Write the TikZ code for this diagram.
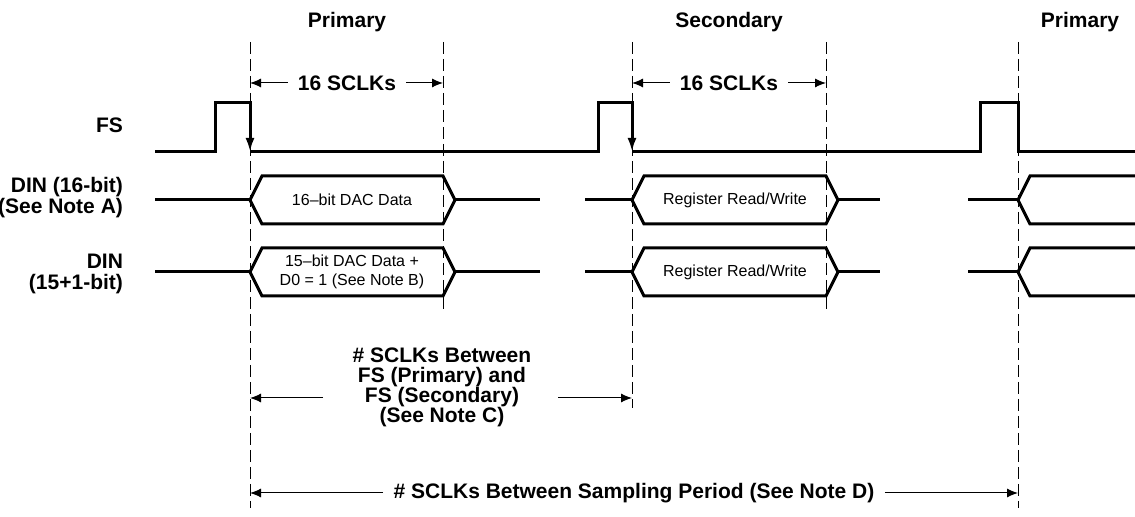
\documentclass[tikz,border=0pt]{standalone}
\usepackage{fontspec}
\setmainfont{Liberation Sans}
\usetikzlibrary{arrows.meta}
\tikzset{>=latex}

\begin{document}
\begin{tikzpicture}[
    x = 0.5pt, y = -0.5pt,
    sig/.style = {line width = 1.5pt},
    grid/.style = {line width = 0.5pt, dash pattern = on 6pt off 2.5pt},
    dim/.style = {line width = 0.5pt, -{Latex[length = 5.5pt, width = 4.5pt]}},
    fsedge/.style = {sig, -{Latex[length = 7pt, width = 4.5pt]}},
    lbl/.style = {font = \bfseries\fontsize{10.5}{10.5}\selectfont},
    dat/.style = {font = \fontsize{8}{9.5}\selectfont, align = center}
]
\useasboundingbox (0,0) rectangle (1135,517);

% frame boundaries
\foreach \n/\x/\yb in {t1/250/508, t2/443/310, t3/632/408, t4/826/310, t5/1018/508}
  {\coordinate (\n) at (\x,42); \draw[grid] (\n) -- (\x,\yb);}

\node[lbl] (h1) at (347,22) {Primary};
\node[lbl] (h2) at (729,22) {Secondary};
\node[lbl] (h3) at (1080,22) {Primary};

\node[lbl, inner xsep = 5pt] (s1) at (347,83) {16 SCLKs};
\draw[dim] (s1.west) -- (s1.west -| t1);
\draw[dim] (s1.east) -- (s1.east -| t2);
\node[lbl, inner xsep = 5pt] (s2) at (729,83) {16 SCLKs};
\draw[dim] (s2.west) -- (s2.west -| t3);
\draw[dim] (s2.east) -- (s2.east -| t4);

\node[lbl, anchor = east, align = right] (fs) at (130,125) {FS};
\node[lbl, anchor = east, align = right] (din1) at (130,198) {DIN (16-bit)\\(See Note A)};
\node[lbl, anchor = east, align = right] (din2) at (130,274) {DIN\\(15+1-bit)};

% FS
\draw[fsedge] (155,152) -- (215,152) -- (215,103) -- (250,103) -- (250,152);
\draw[fsedge] (250,152) -- (598,152) -- (598,103) -- (632,103) -- (632,152);
\draw[sig] (632,152) -- (980,152) -- (980,103) -- (1018,103) -- (1018,152) -- (1135,152);

% DIN
\foreach \y in {200, 272} {
  \draw[sig] (155,\y) -- (250,\y);
  \draw[sig] (250,\y) -- (262,\y-24) -- (443,\y-24) -- (455,\y) -- (443,\y+24) -- (262,\y+24) -- cycle;
  \draw[sig] (455,\y) -- (540,\y);
  \draw[sig] (585,\y) -- (632,\y);
  \draw[sig] (632,\y) -- (644,\y-24) -- (826,\y-24) -- (838,\y) -- (826,\y+24) -- (644,\y+24) -- cycle;
  \draw[sig] (838,\y) -- (880,\y);
  \draw[sig] (968,\y) -- (1018,\y);
  \draw[sig] (1135,\y-24) -- (1030,\y-24) -- (1018,\y) -- (1030,\y+24) -- (1135,\y+24);
}
\node[dat] (d1) at (352,200) {16–bit DAC Data};
\node[dat] (d2) at (352,272) {15–bit DAC Data +\\D0 = 1 (See Note B)};
\node[dat] (r1) at (735,200) {Register Read/Write};
\node[dat] (r2) at (735,272) {Register Read/Write};

% SCLK counts
\node[font = \bfseries\fontsize{10.5}{10}\selectfont, align = center] (nc) at (442,387)
  {\# SCLKs Between\\FS (Primary) and\\FS (Secondary)\\(See Note C)};
\coordinate (cl) at (323,398);
\coordinate (cr) at (558,398);
\draw[dim] (cl) -- (cl -| t1);
\draw[dim] (cr) -- (cr -| t3);

\node[lbl, inner xsep = 5pt] (sp) at (634,493) {\# SCLKs Between Sampling Period (See Note D)};
\draw[dim] (sp.west) -- (sp.west -| t1);
\draw[dim] (sp.east) -- (sp.east -| t5);
\end{tikzpicture}
\end{document}
